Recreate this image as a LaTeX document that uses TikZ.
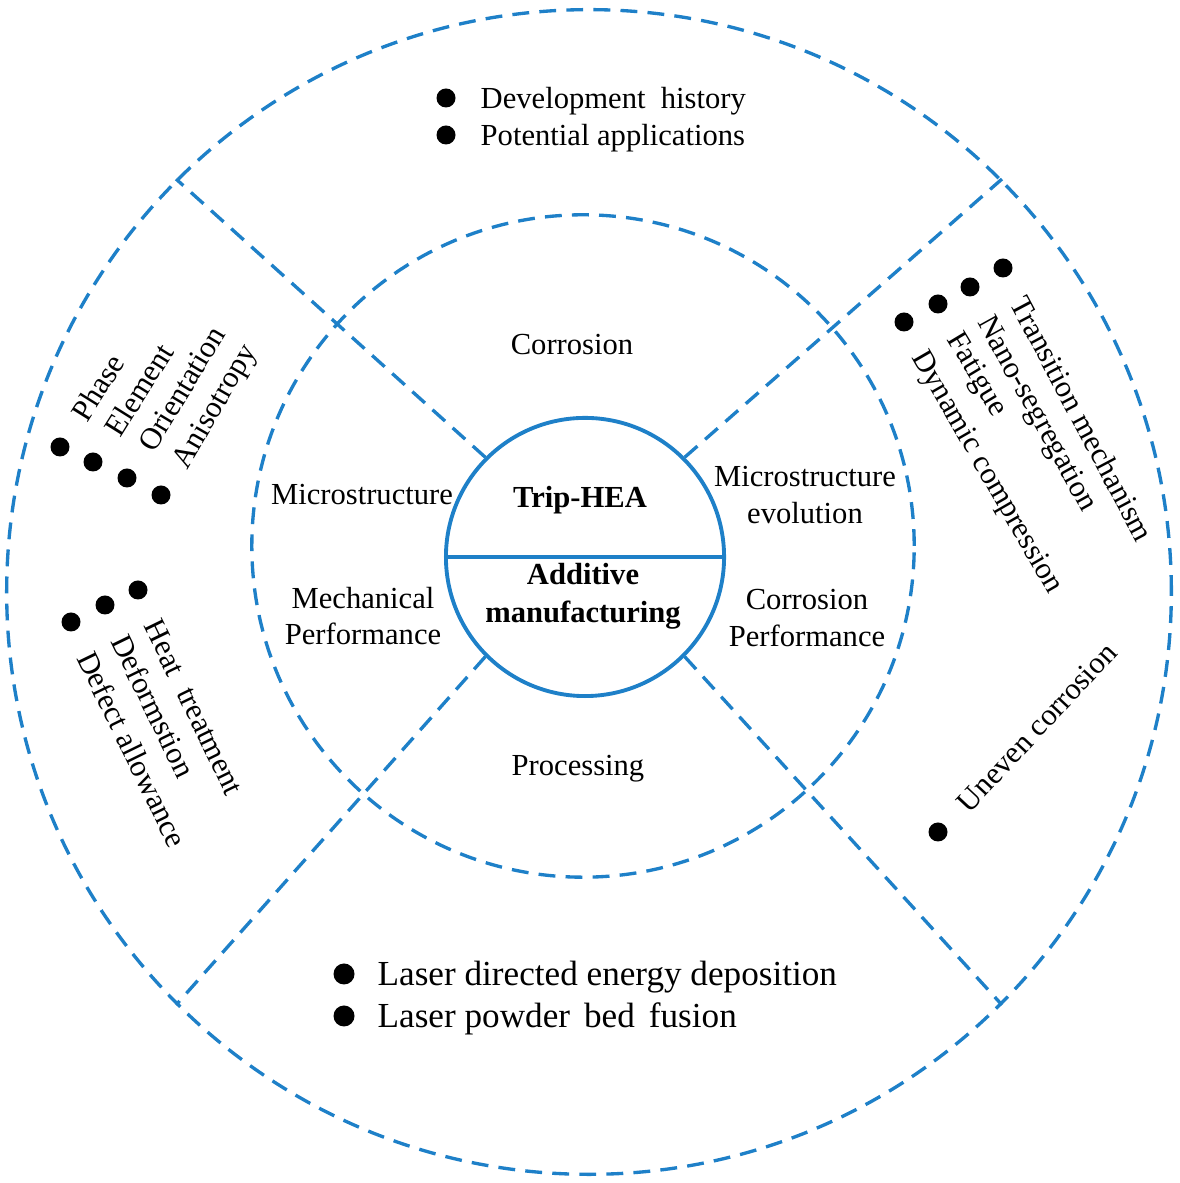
\documentclass[tikz,border=0pt]{standalone}
\usepackage{fontspec}
\setmainfont{Liberation Serif}
\usetikzlibrary{calc}
\definecolor{ringblue}{RGB}{30,128,200}

\begin{document}
\begin{tikzpicture}[x=0.01cm, y=0.01cm,
    ringline/.style={draw=ringblue, line width=0.95pt, dash pattern=on 4.8pt off 2.9pt},
    topic/.style={font=\fontsize{8.7}{10.4}\selectfont, align=center},
    hub/.style={font=\fontsize{8.7}{10.8}\selectfont\bfseries, align=center},
    itemtext/.style={font=\fontsize{8.7}{10.4}\selectfont, inner sep=0pt, anchor=base west},
    bigitemtext/.style={font=\fontsize{10}{12}\selectfont, inner sep=0pt, anchor=base west}]

    \useasboundingbox (0,0) rectangle (1180,1183);

    % rings
    \node[circle, ringline, minimum size=11.64cm] (rim) at (589,591) {};
    \node[circle, ringline, minimum size=6.62cm] (ring) at (583,637) {};
    \node[circle, draw=ringblue, line width=1.1pt, minimum size=2.78cm] (core) at (585,626) {};
    \draw[ringblue, line width=1.1pt] (core.180) -- (core.0);
    \foreach \a in {45,135,225,315}
        \draw[ringline] (core.\a) -- (rim.\a);

    % centre
    \node[hub] (trip) at (580,683) {Trip-HEA};
    \node[hub] (am) at (583,587) {Additive\\manufacturing};

    % middle ring
    \node[topic] (corr) at (572,838) {Corrosion};
    \node[topic] (micro) at (362,688) {Microstructure};
    \node[topic] (mech) at (363,567) {Mechanical\\Performance};
    \node[topic] (evol) at (805,688) {Microstructure\\evolution};
    \node[topic] (corrperf) at (807,565) {Corrosion\\Performance};
    \node[topic] (proc) at (578,414) {Processing};

    % outer ring, top
    \fill (446,1085) circle [radius=9.5];
    \node[itemtext] (hist) at (480,1074) {Development\hspace{0.25em} history};
    \fill (446,1048) circle [radius=9.5];
    \node[itemtext] (apps) at (480,1037) {Potential applications};

    % outer ring, bottom
    \fill (344,209) circle [radius=10.5];
    \node[bigitemtext] (ded) at (377,197) {Laser directed energy deposition};
    \fill (344,167) circle [radius=10.5];
    \node[bigitemtext] (pbf) at (377,155) {Laser powder\hspace{0.15em} bed\hspace{0.15em} fusion};

    % outer ring, left
    \coordinate (p1) at (60,736);
    \coordinate (p2) at (93,721);
    \coordinate (p3) at (127,705);
    \coordinate (p4) at (161,688);
    \fill (p1) circle [radius=9.5];
    \fill (p2) circle [radius=9.5];
    \fill (p3) circle [radius=9.5];
    \fill (p4) circle [radius=9.5];
    \node[itemtext, rotate=58] (phase) at ($(p1)+(58:34)+(-32:11)$) {Phase};
    \node[itemtext, rotate=58] (elem) at ($(p2)+(58:34)+(-32:11)$) {Element};
    \node[itemtext, rotate=59] (orient) at ($(p3)+(59:34)+(-31:11)$) {Orientation};
    \node[itemtext, rotate=60] (aniso) at ($(p4)+(60:34)+(-30:11)$) {Anisotropy};

    \coordinate (h1) at (71,561);
    \coordinate (h2) at (105,578);
    \coordinate (h3) at (138,593);
    \fill (h1) circle [radius=9.5];
    \fill (h2) circle [radius=9.5];
    \fill (h3) circle [radius=9.5];
    \node[itemtext, rotate=-64] (defect) at ($(h1)+(-64:34)+(-154:11)$) {Defect allowance};
    \node[itemtext, rotate=-64] (deform) at ($(h2)+(-64:34)+(-154:11)$) {Deformstion};
    \node[itemtext, rotate=-64] (heat) at ($(h3)+(-64:34)+(-154:11)$) {Heat\hspace{0.3em} treatment};

    % outer ring, right
    \coordinate (m1) at (904,861);
    \coordinate (m2) at (938,879);
    \coordinate (m3) at (970,896);
    \coordinate (m4) at (1003,915);
    \fill (m1) circle [radius=9.5];
    \fill (m2) circle [radius=9.5];
    \fill (m3) circle [radius=9.5];
    \fill (m4) circle [radius=9.5];
    \node[itemtext, rotate=-60] (dyn) at ($(m1)+(-60:34)+(-150:11)$) {Dynamic compression};
    \node[itemtext, rotate=-59] (fat) at ($(m2)+(-59:34)+(-149:11)$) {Fatigue};
    \node[itemtext, rotate=-61] (nano) at ($(m3)+(-61:34)+(-151:11)$) {Nano-segregation};
    \node[itemtext, rotate=-62] (trans) at ($(m4)+(-62:34)+(-152:11)$) {Transition mechanism};

    \coordinate (u1) at (938,351);
    \fill (u1) circle [radius=9.5];
    \node[itemtext, rotate=47] (uneven) at ($(u1)+(47:34)+(-43:11)$) {Uneven corrosion};
\end{tikzpicture}
\end{document}
